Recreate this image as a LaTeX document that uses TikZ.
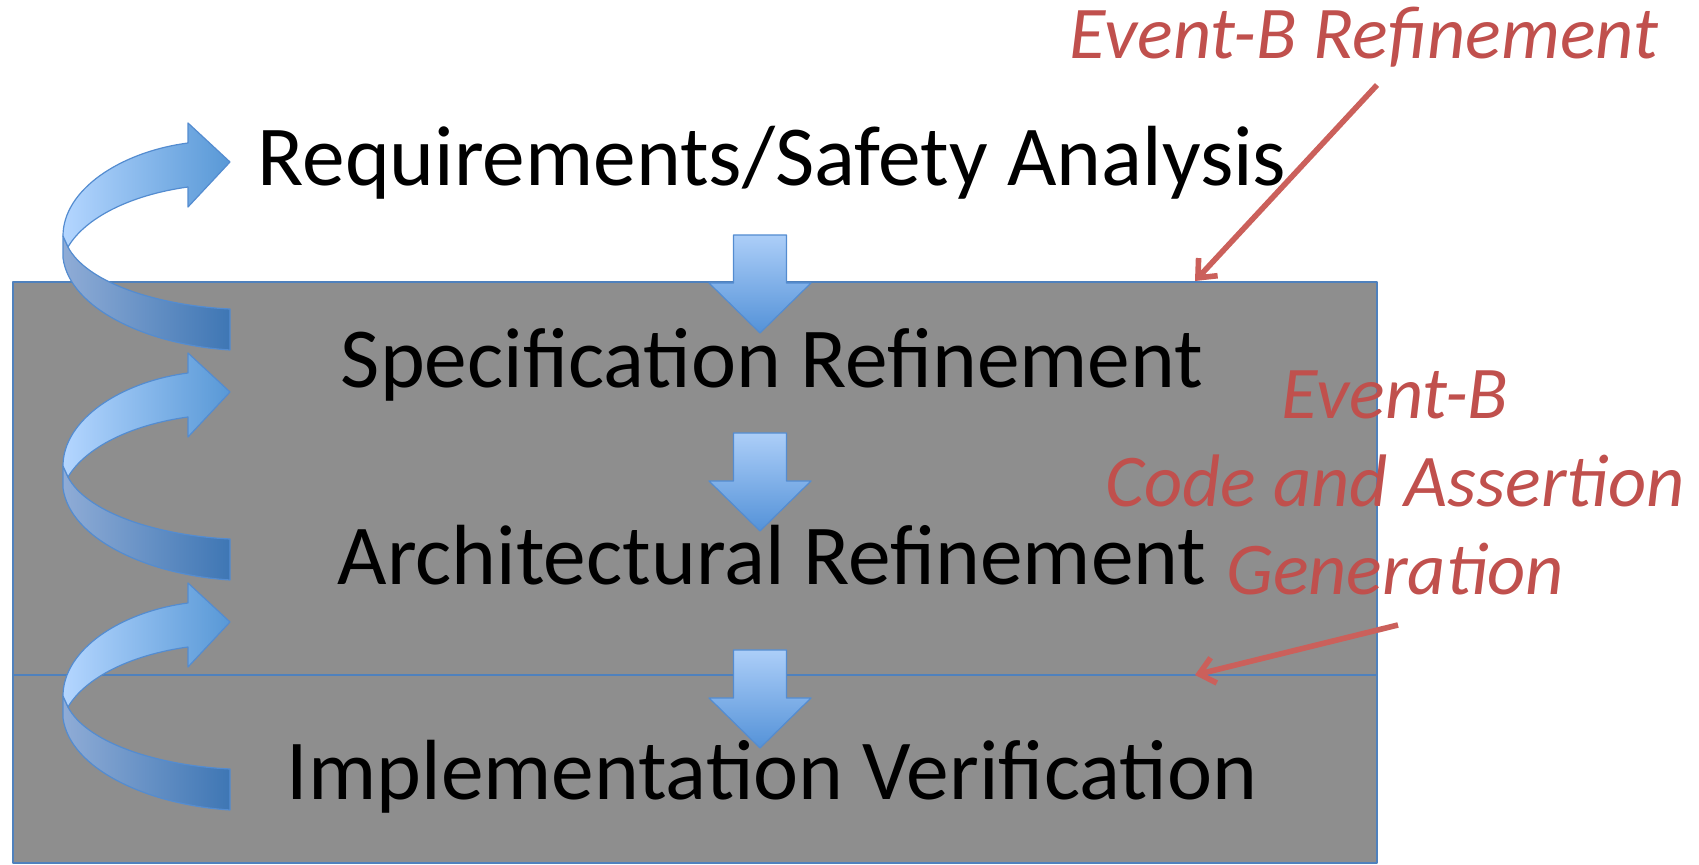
\documentclass[tikz,border=0pt]{standalone}
\usepackage{fontspec}
\setmainfont{Carlito}
\usepackage{tikz}
\usetikzlibrary{arrows.meta,positioning}

\definecolor{boxgray}{RGB}{142,142,142}
\definecolor{boxedge}{RGB}{79,129,189}
\definecolor{noteRed}{RGB}{192,80,77}
\definecolor{arrowRed}{RGB}{203,96,91}
\definecolor{flowLight}{RGB}{180,214,255}
\definecolor{flowMid}{RGB}{88,152,214}
\definecolor{flowBackL}{RGB}{143,172,214}
\definecolor{flowBackR}{RGB}{62,118,180}
\definecolor{flowEdge}{RGB}{84,140,208}
\definecolor{downTop}{RGB}{172,206,248}
\definecolor{downBot}{RGB}{84,146,216}

\begin{document}
\begin{tikzpicture}[
  x=0.5pt,y=-0.5pt,
  line cap=round,
  line join=round,
  panel/.style={draw=boxedge,line width=1pt,fill=boxgray},
  stage/.style={font=\fontsize{42.7}{50}\selectfont,anchor=base,inner sep=0pt},
  note/.style={font=\fontsize{37.2}{44}\selectfont\itshape,text=noteRed,inner sep=0pt,align=center},
  callout/.style={draw=arrowRed,line width=2.8pt,line cap=butt,-{Straight Barb[length=7.5pt,width=13pt]}},
  flow/.style={draw=flowEdge,line width=0.6pt},
  loop arrow/.pic={
    % back half of the ribbon
    \shadedraw[flow,left color=flowBackL,right color=flowBackR]
      (63,236) -- (63,258) .. controls (70,310) and (150,345) .. (230,350)
      -- (230,309) .. controls (150,305) and (85,280) .. (68,247) -- cycle;
    % front half with the head
    \shadedraw[flow,left color=flowLight,right color=flowMid]
      (188,143) .. controls (120,152) and (63,190) .. (63,236)
      -- (68,247) .. controls (85,218) and (130,195) .. (188,187)
      -- (188,207) -- (230,162) -- (188,123) -- cycle;
  },
  down arrow/.pic={
    \shadedraw[flow,top color=downTop,bottom color=downBot]
      (-26.5,0) -- (26.5,0) -- (26.5,48) -- (51,48) -- (0,98)
      -- (-51,48) -- (-26.5,48) -- cycle;
  }
]
\useasboundingbox (0,0) rectangle (1699,865);

% Grey panels
\draw[panel] (13,282) rectangle (1377,675);
\draw[panel] (13,675) rectangle (1377,863);

% Down arrows between the stages
\foreach \y in {235,433,650}
  \pic at (760,\y) {down arrow};

% Loop arrows on the left
\foreach \dy in {0,230,460}
  \pic at (0,\dy) {loop arrow};

% Stages
\node[stage] (req) at (772,186) {Requirements/Safety Analysis};
\node[stage] (spec) at (772,388) {Specification Refinement};
\node[stage] (arch) at (772,585) {Architectural Refinement};
\node[stage] (impl) at (772,800) {Implementation Verification};

% Red notes
\node[note,anchor=base] (refine) at (1364,59) {Event-B Refinement};
\node[note,anchor=base] (codegen) at (1395,595) {Event-B\\Code and Assertion\\Generation};

\coordinate (refTail) at (1377,85);
\coordinate (refHead) at (1195,281);
\coordinate (genTail) at (1398,625);
\coordinate (genHead) at (1195,675);
\draw[callout] (refTail) -- (refHead);
\draw[callout] (genTail) -- (genHead);

\end{tikzpicture}
\end{document}
